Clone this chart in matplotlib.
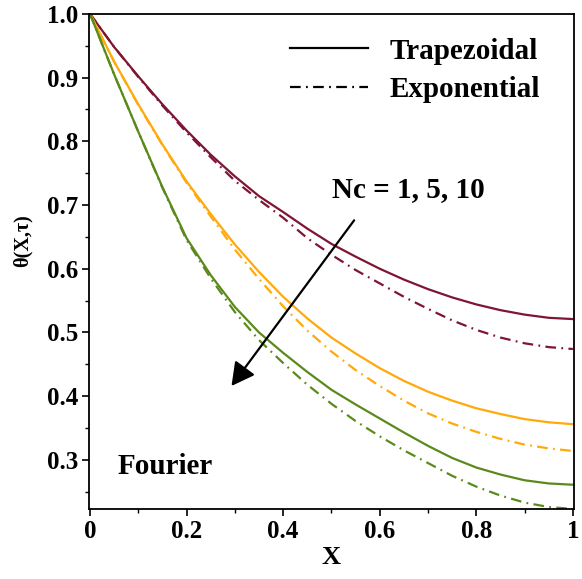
import matplotlib
matplotlib.use("Agg")
import matplotlib.pyplot as plt
from matplotlib.ticker import MultipleLocator, FixedLocator
from matplotlib.lines import Line2D

# Dimensionless fin temperature profiles theta(X, tau) for Nc = 1, 5, 10
x_vals = [0.00, 0.05, 0.10, 0.15, 0.20, 0.25, 0.30, 0.35, 0.40, 0.45, 0.50,
          0.55, 0.60, 0.65, 0.70, 0.75, 0.80, 0.85, 0.90, 0.95, 1.00]

# Trapezoidal profile
trap_nc1 = [1.000, 0.948, 0.902, 0.858, 0.817, 0.779, 0.745, 0.714, 0.689, 0.663, 0.639,
            0.619, 0.600, 0.583, 0.568, 0.555, 0.544, 0.535, 0.528, 0.523, 0.521]
trap_nc5 = [1.000, 0.925, 0.858, 0.795, 0.737, 0.686, 0.638, 0.595, 0.556, 0.522, 0.492,
            0.467, 0.444, 0.424, 0.407, 0.393, 0.381, 0.372, 0.364, 0.359, 0.356]
trap_nc10 = [1.000, 0.905, 0.815, 0.728, 0.648, 0.590, 0.540, 0.500, 0.468, 0.438, 0.410,
             0.387, 0.365, 0.343, 0.322, 0.303, 0.288, 0.277, 0.268, 0.263, 0.261]

# Exponential profile
expo_nc1 = [1.000, 0.948, 0.901, 0.856, 0.814, 0.775, 0.738, 0.708, 0.680, 0.648, 0.622,
            0.598, 0.577, 0.556, 0.537, 0.519, 0.504, 0.492, 0.483, 0.477, 0.474]
expo_nc5 = [1.000, 0.925, 0.857, 0.794, 0.735, 0.682, 0.630, 0.584, 0.541, 0.503, 0.470,
            0.441, 0.416, 0.393, 0.373, 0.357, 0.344, 0.333, 0.324, 0.318, 0.314]
expo_nc10 = [1.000, 0.905, 0.815, 0.727, 0.645, 0.585, 0.532, 0.488, 0.452, 0.418, 0.388,
             0.361, 0.337, 0.315, 0.295, 0.275, 0.258, 0.244, 0.233, 0.226, 0.223]

x_ticks = [0, 0.2, 0.4, 0.6, 0.8, 1.0]
x_ticklabels = ["0", "0.2", "0.4", "0.6", "0.8", "1"]
y_ticks = [0.3, 0.4, 0.5, 0.6, 0.7, 0.8, 0.9, 1.0]
y_ticklabels = ["0.3", "0.4", "0.5", "0.6", "0.7", "0.8", "0.9", "1.0"]

colors = ["#7e1533", "#ffa90a", "#5b8a1c"]

plt.rcParams["font.family"] = ["Liberation Serif", "DejaVu Serif"]
plt.rcParams["font.weight"] = "bold"

fig = plt.figure(figsize=(5.82, 5.79), dpi=100)
ax = fig.add_axes([0.153, 0.121, 0.833, 0.855])

lw = 1.6
dashdot = (4.8, 2.4, 0.8, 2.4)
for c, ts, es in zip(colors, [trap_nc1, trap_nc5, trap_nc10], [expo_nc1, expo_nc5, expo_nc10]):
    ax.plot(x_vals, ts, color=c, lw=lw)
    ax.plot(x_vals, es, color=c, lw=lw, dashes=dashdot)

ax.set_xlim(-0.002, 1.002)
ax.set_ylim(0.223, 1.0)

ax.xaxis.set_major_locator(FixedLocator(x_ticks))
ax.set_xticklabels(x_ticklabels)
ax.xaxis.set_minor_locator(MultipleLocator(0.1))
ax.yaxis.set_major_locator(FixedLocator(y_ticks))
ax.set_yticklabels(y_ticklabels)
ax.yaxis.set_minor_locator(MultipleLocator(0.05))

ax.tick_params(which="major", direction="out", length=5, width=1.2, labelsize=18, pad=3)
ax.tick_params(which="minor", direction="out", length=3, width=1.0)
for lab in ax.get_xticklabels() + ax.get_yticklabels():
    lab.set_fontweight("bold")
for sp in ax.spines.values():
    sp.set_linewidth(1.3)

ax.set_xlabel("X", fontsize=19, fontweight="bold", labelpad=2)
ax.set_ylabel("θ(X,τ)", fontsize=14.5, fontweight="bold")
ax.yaxis.set_label_coords(-0.117, 0.543)

handles = [Line2D([], [], color="black", lw=lw),
           Line2D([], [], color="black", lw=lw, dashes=dashdot)]
ax.legend(handles, ["Trapezoidal", "Exponential"], loc="upper right",
          bbox_to_anchor=(0.93, 0.952), frameon=False, borderpad=0, borderaxespad=0,
          handlelength=2.67, handletextpad=0.75, labelspacing=0.39,
          prop={"family": "Liberation Serif", "weight": "bold", "size": 21})

ax.text(0.501, 0.725, "Nc = 1, 5, 10", fontsize=21, fontweight="bold",
        ha="left", va="center")
ax.text(0.058, 0.289, "Fourier", fontsize=21, fontweight="bold",
        ha="left", va="center")

ax.annotate("", xy=(0.293, 0.416), xytext=(0.547, 0.676),
            arrowprops=dict(arrowstyle="-|>,head_length=1.4,head_width=0.75",
                            color="black", lw=1.6, shrinkA=0, shrinkB=0))

fig.savefig("out.png", dpi=100)
